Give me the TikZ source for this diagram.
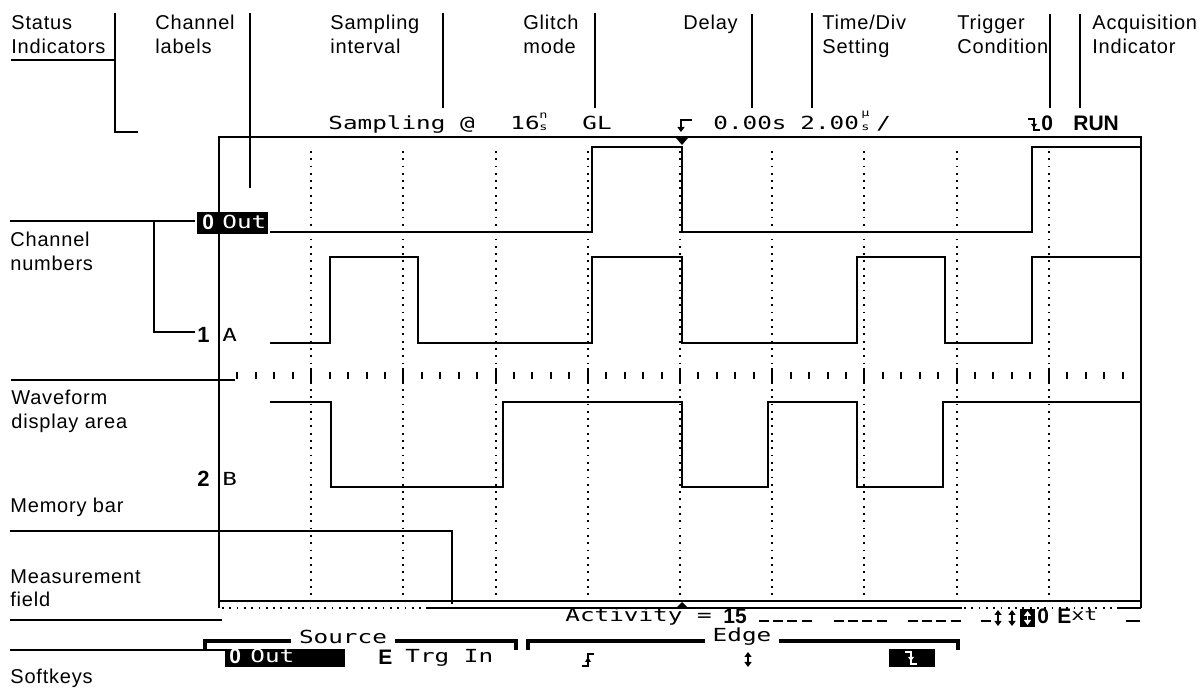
\documentclass[tikz,border=0pt]{standalone}
\usepackage{fontspec}
\setmainfont{Liberation Sans}[LetterSpace=4]
\newfontfamily\lcd{DejaVu Sans Mono}[FakeStretch=1.35]
\newfontfamily\bsans{Liberation Sans}
\usetikzlibrary{arrows.meta}
\begin{document}
\begin{tikzpicture}[x=0.5pt,y=-0.5pt,
  lbl/.style={anchor=base west,inner sep=0pt,font=\fontsize{10}{12}\selectfont},
  lcdtxt/.style={anchor=base west,inner sep=0pt,font=\lcd\fontsize{9}{10}\selectfont},
  boldtxt/.style={anchor=base west,inner sep=0pt,font=\bsans\bfseries\fontsize{10.5}{12}\selectfont},
  lead/.style={line width=0.6pt},
  scr/.style={line width=1pt},
  wave/.style={line width=1.4pt},
  gridl/.style={line width=1pt,dash pattern=on 0.9pt off 2.75pt},
  tick/.style={line width=1pt},
  brk/.style={line width=2pt},
  glyph/.style={line width=0.8pt},
  tipT/.style={-{Triangle[length=2.5pt,width=3.5pt]}},
  tipB/.style={{Triangle[length=2.5pt,width=3.5pt]}-{Triangle[length=2.5pt,width=3.5pt]}}
]
\useasboundingbox (0,0) rectangle (1201,689);

% ---------- top annotation labels ----------
\node[lbl] (st1) at (11,30) {Status};
\node[lbl] (st2) at (11,54) {Indicators};
\coordinate (stA) at (11,60); \coordinate (stB) at (115,60);
\coordinate (stT) at (115,13); \coordinate (stC) at (115,132); \coordinate (stD) at (138,132);
\draw[lead] (stA) -- (stB);
\draw[lead] (stT) -- (stC) -- (stD);

\node[lbl] (cl1) at (155,30) {Channel};
\node[lbl] (cl2) at (155,54) {labels};
\coordinate (clT) at (250,13); \coordinate (clB) at (250,188);
\draw[lead] (clT) -- (clB);

\node[lbl] (si1) at (330,30) {Sampling};
\node[lbl] (si2) at (330,54) {interval};
\coordinate (siT) at (443,13); \coordinate (siB) at (443,108);
\draw[lead] (siT) -- (siB);

\node[lbl] (gm1) at (523,30) {Glitch};
\node[lbl] (gm2) at (523,54) {mode};
\coordinate (gmT) at (595,13); \coordinate (gmB) at (595,108);
\draw[lead] (gmT) -- (gmB);

\node[lbl] (dl1) at (683,30) {Delay};
\coordinate (dlT) at (752,14); \coordinate (dlB) at (752,108);
\draw[lead] (dlT) -- (dlB);

\node[lbl] (td1) at (822,30) {Time/Div};
\node[lbl] (td2) at (822,54) {Setting};
\coordinate (tdT) at (812,13); \coordinate (tdB) at (812,108);
\draw[lead] (tdT) -- (tdB);

\node[lbl] (tc1) at (957,30) {Trigger};
\node[lbl] (tc2) at (957,54) {Condition};
\coordinate (tcT) at (1050,14); \coordinate (tcB) at (1050,108);
\draw[lead] (tcT) -- (tcB);

\node[lbl] (ai1) at (1092,30) {Acquisition};
\node[lbl] (ai2) at (1092,54) {Indicator};
\coordinate (aiT) at (1080,14); \coordinate (aiB) at (1080,108);
\draw[lead] (aiT) -- (aiB);

% ---------- left annotation labels ----------
\node[lbl] (cn1) at (10,247) {Channel};
\node[lbl] (cn2) at (10,271) {numbers};
\coordinate (cnA) at (10,221); \coordinate (cnB) at (195,221);
\coordinate (cnV) at (154,221); \coordinate (cnW) at (154,332); \coordinate (cnX) at (195,332);
\draw[lead] (cnA) -- (cnB);
\draw[lead] (cnV) -- (cnW) -- (cnX);

\node[lbl] (wf1) at (11,405) {Waveform};
\node[lbl] (wf2) at (11,429) {display area};
\coordinate (wfA) at (11,380); \coordinate (wfB) at (235,380);
\draw[lead] (wfA) -- (wfB);

\node[lbl] (mb1) at (10,513) {Memory bar};
\coordinate (mbA) at (10,531); \coordinate (mbB) at (452,531); \coordinate (mbC) at (452,604);
\draw[lead] (mbA) -- (mbB) -- (mbC);

\node[lbl] (mf1) at (10,584) {Measurement};
\node[lbl] (mf2) at (10,607) {field};
\coordinate (mfA) at (10,620); \coordinate (mfB) at (222,620);
\draw[lead] (mfA) -- (mfB);

\node[lbl] (sk1) at (10,684) {Softkeys};
\coordinate (skA) at (10,650); \coordinate (skB) at (225,650);
\draw[lead] (skA) -- (skB);

% ---------- screen frame ----------
\draw[scr] (219,608) -- (219,137) -- (1141,137) -- (1141,608);
\draw[scr] (219,601) -- (1141,601);
% memory bar
\draw[scr] (427,608) -- (962,608);
\draw[scr] (1119,608) -- (1141,608);
\draw[gridl] (222,608) -- (427,608);
\draw[gridl] (964,608) -- (1119,608);

% grid
\foreach \k in {1,...,9} {
  \draw[gridl] ({219+92.2*\k},151) -- ({219+92.2*\k},365);
  \draw[gridl] ({219+92.2*\k},389) -- ({219+92.2*\k},598);
}
% tick row
\foreach \j in {1,...,49} \draw[tick] ({219+18.44*\j},372) -- ++(0,7);
\foreach \k in {1,...,9} \draw[tick] ({219+92.2*\k},368) -- ++(0,16);

% trigger markers
\fill (676,138) -- (688,138) -- (682,145) -- cycle;
\fill (676,608) -- (688,608) -- (682,602) -- cycle;

% waveforms
\draw[wave] (270,232) -- (592,232) -- (592,147) -- (682,147) -- (682,232) -- (1032,232) -- (1032,147) -- (1141,147);
\draw[wave] (270,343) -- (330,343) -- (330,257) -- (418,257) -- (418,343) -- (592,343) -- (592,257) -- (682,257) -- (682,343) -- (857,343) -- (857,257) -- (945,257) -- (945,343) -- (1032,343) -- (1032,257) -- (1141,257);
\draw[wave] (270,402) -- (331,402) -- (331,487) -- (503,487) -- (503,402) -- (682,402) -- (682,487) -- (768,487) -- (768,402) -- (857,402) -- (857,487) -- (943,487) -- (943,402) -- (1141,402);

% channel labels
\fill (197,212) rectangle (268,234);
\node[boldtxt,text=white] (c0n) at (202,230) {0};
\node[lcdtxt,text=white] (c0l) at (222,229) {Out};
\node[boldtxt,font=\bsans\bfseries\fontsize{11}{12}\selectfont] (c1n) at (197,343) {1};
\node[lcdtxt] (c1l) at (222,342) {A};
\node[boldtxt,font=\bsans\bfseries\fontsize{11}{12}\selectfont] (c2n) at (197,487) {2};
\node[lcdtxt] (c2l) at (222,486) {B};

% ---------- status row ----------
\node[lcdtxt] (samp) at (328,130) {Sampling @};
\node[lcdtxt] (si16) at (510,130) {16};
\node[anchor=south west,inner sep=0pt,font=\lcd\fontsize{5}{5}\selectfont] (sins) at (539,131) {\shortstack{n\\s}};
\node[lcdtxt] (glm) at (582,130) {GL};
\draw[glyph,tipT] (692,120) -- (681,120) -- (681,132);
\node[lcdtxt] (dly) at (713,130) {0.00s};
\node[lcdtxt] (tdv) at (800,130) {2.00};
\node[anchor=south west,inner sep=0pt,font=\lcd\fontsize{5}{5}\selectfont] (tdus) at (861,131) {\shortstack{\textmu\\s}};
\node[lcdtxt] (tdsl) at (876,130) {/};
\draw[glyph] (1028,119) -- (1034,119) -- (1034,130) -- (1040,130);
\fill (1031,124) -- (1037,124) -- (1034,128) -- cycle;
\node[boldtxt] (tc0) at (1041,131) {0};
\node[boldtxt] (run) at (1073,131) {RUN};

% ---------- measurement row ----------
\node[lcdtxt] (act) at (565,622) {Activity =};
\node[boldtxt] (a15) at (723,624) {15};
\draw[line width=1.3pt,dash pattern=on 5pt off 2.1pt] (759,621) -- (815,621);
\draw[line width=1.3pt,dash pattern=on 5pt off 2.1pt] (834,621) -- (889,621);
\draw[line width=1.3pt,dash pattern=on 5pt off 2.1pt] (908,621) -- (962,621);
\draw[line width=1.3pt] (981,621) -- (991,621);
\draw[glyph,tipB] (998,610) -- (998,626);
\draw[glyph,tipB] (1012,610) -- (1012,626);
\fill (1020,609) rectangle (1035,627);
\draw[glyph,white,tipB] (1027.5,611) -- (1027.5,625);
\node[boldtxt] (m0) at (1037,624) {0};
\node[boldtxt] (mE) at (1057,624) {E};
\node[lcdtxt,font=\lcd\fontsize{8}{9}\selectfont] (mxt) at (1071,621) {xt};
\draw[line width=1.3pt] (1126,621) -- (1140,621);

% ---------- softkeys ----------
\draw[brk] (205,650) -- (205,641) -- (516,641) -- (516,650);
\node[lcdtxt,anchor=center,fill=white,inner xsep=4pt] (src) at (343,637) {Source};
\draw[brk] (528,650) -- (528,641) -- (958,641) -- (958,650);
\node[lcdtxt,anchor=center,fill=white,inner xsep=4pt] (edg) at (742,637) {Edge};

\fill (225,649) rectangle (345,667);
\node[boldtxt,text=white] (sk0) at (229,664) {0};
\node[lcdtxt,text=white] (sko) at (250,663) {Out};
\node[boldtxt] (skE) at (378,665) {E};
\node[lcdtxt] (skt) at (405,663) {Trg In};
% rising edge glyph
\draw[glyph] (582,666) -- (588,666) -- (588,654) -- (594,654);
\fill (585,662) -- (591,662) -- (588,657) -- cycle;
% both edges
\draw[glyph,tipB] (748,652) -- (748,667);
% falling edge (selected)
\fill (889,649) rectangle (935,667);
\draw[glyph,white] (905,652) -- (911,652) -- (911,664) -- (917,664);
\fill[white] (908,657) -- (914,657) -- (911,661) -- cycle;
\end{tikzpicture}
\end{document}
